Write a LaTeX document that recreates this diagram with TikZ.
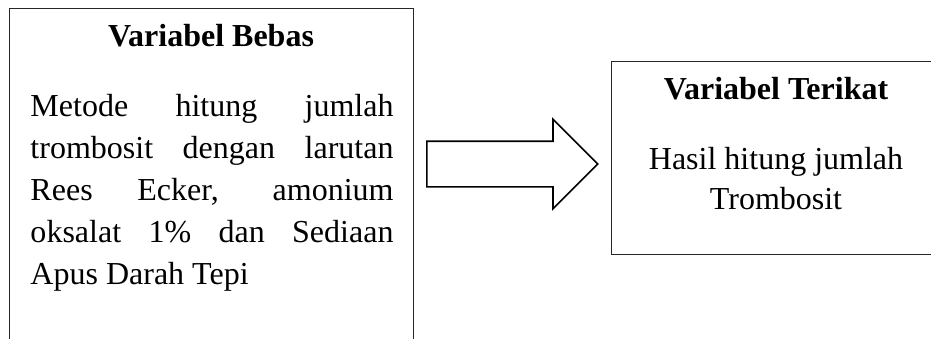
\documentclass[tikz,border=0pt]{standalone}
\usepackage{fontspec}
\setmainfont{Liberation Serif}
\usetikzlibrary{shapes.arrows,positioning}

\begin{document}
\begin{tikzpicture}[
        x=0.4pt, y=-0.4pt,
        varbox/.style={
            draw=black!85,
            line width=0.5pt,
            inner sep=0pt,
            anchor=north west
        },
        judul/.style={font=\fontsize{12.8}{16.8}\selectfont\bfseries, inner sep=0pt, anchor=base},
        isi/.style={font=\fontsize{12.8}{16.8}\selectfont, inner sep=0pt},
        panah/.style={
            draw,
            line width=0.65pt,
            single arrow,
            single arrow head extend=8.8pt,
            single arrow head indent=0pt,
            inner sep=8.8pt,
            minimum height=68.4pt,
            anchor=tail
        }
    ]
        \useasboundingbox (0,0) rectangle (931,339);
        \clip (0,0) rectangle (931,339);

        % the two variable boxes, both run past the page edge
        \node[varbox, minimum width=161.6pt, minimum height=200pt] (bebas) at (9,8) {};
        \node[varbox, minimum width=132pt, minimum height=77.2pt] (terikat) at (611,61) {};

        \node[judul] (judulbebas) at (211,47) {Variabel Bebas};
        \node[isi, text width=145.2pt, align=justify, anchor=north west] (isibebas) at (30,94)
            {Metode hitung jumlah\linebreak trombosit dengan larutan\linebreak Rees Ecker, amonium\linebreak oksalat 1\% dan Sediaan\linebreak Apus Darah Tepi};

        \node[judul] (judulterikat) at (776,100) {Variabel Terikat};
        \node[isi, font=\fontsize{12.8}{16}\selectfont, align=center, anchor=north] (isiterikat) at (776,147)
            {Hasil hitung jumlah\\Trombosit};

        % block arrow between the boxes
        \node[panah] (arah) at (426,164) {};
    \end{tikzpicture}
\end{document}
